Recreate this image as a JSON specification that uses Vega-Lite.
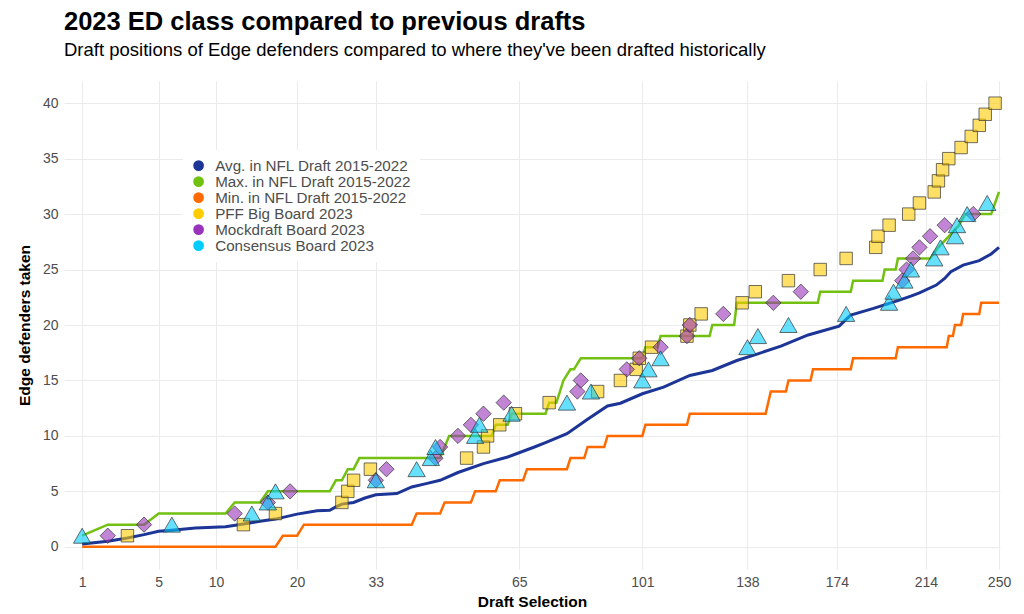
{
  "$schema": "https://vega.github.io/schema/vega-lite/v6.json",
  "width": 936,
  "height": 488,
  "autosize": {"type": "none"},
  "padding": {"left": 64, "top": 81, "right": 24, "bottom": 45},
  "background": "white",
  "title": {
    "text": "2023 ED class compared to previous drafts",
    "subtitle": "Draft positions of Edge defenders compared to where they've been drafted historically",
    "anchor": "start",
    "frame": "group",
    "font": "Liberation Sans",
    "fontSize": 25.5,
    "fontWeight": "bold",
    "color": "#000000",
    "subtitleFont": "Liberation Sans",
    "subtitleFontSize": 18.5,
    "subtitleColor": "#000000",
    "subtitlePadding": 5,
    "offset": 22
  },
  "config": {
    "view": {"stroke": null},
    "axis": {
      "domain": false,
      "ticks": false,
      "grid": true,
      "gridColor": "#ebebeb",
      "gridWidth": 1,
      "labelFlush": false,
      "labelFont": "Liberation Sans",
      "labelFontSize": 14,
      "labelColor": "#4d4d4d",
      "titleFont": "Liberation Sans",
      "titleFontSize": 15.5,
      "titleFontWeight": "bold",
      "titleColor": "#000000"
    }
  },
  "datasets": {
    "lines": [
      {"pick": 1, "value": 0.25, "series": "Avg. in NFL Draft 2015-2022"},
      {"pick": 2, "value": 0.5, "series": "Avg. in NFL Draft 2015-2022"},
      {"pick": 3, "value": 0.8, "series": "Avg. in NFL Draft 2015-2022"},
      {"pick": 4, "value": 1.1, "series": "Avg. in NFL Draft 2015-2022"},
      {"pick": 5, "value": 1.4, "series": "Avg. in NFL Draft 2015-2022"},
      {"pick": 6, "value": 1.5, "series": "Avg. in NFL Draft 2015-2022"},
      {"pick": 8, "value": 1.7, "series": "Avg. in NFL Draft 2015-2022"},
      {"pick": 11, "value": 1.8, "series": "Avg. in NFL Draft 2015-2022"},
      {"pick": 13, "value": 2.05, "series": "Avg. in NFL Draft 2015-2022"},
      {"pick": 15, "value": 2.3, "series": "Avg. in NFL Draft 2015-2022"},
      {"pick": 17, "value": 2.5, "series": "Avg. in NFL Draft 2015-2022"},
      {"pick": 20, "value": 2.95, "series": "Avg. in NFL Draft 2015-2022"},
      {"pick": 23, "value": 3.25, "series": "Avg. in NFL Draft 2015-2022"},
      {"pick": 25, "value": 3.3, "series": "Avg. in NFL Draft 2015-2022"},
      {"pick": 26, "value": 3.6, "series": "Avg. in NFL Draft 2015-2022"},
      {"pick": 27, "value": 3.85, "series": "Avg. in NFL Draft 2015-2022"},
      {"pick": 29, "value": 4.0, "series": "Avg. in NFL Draft 2015-2022"},
      {"pick": 31, "value": 4.4, "series": "Avg. in NFL Draft 2015-2022"},
      {"pick": 33, "value": 4.7, "series": "Avg. in NFL Draft 2015-2022"},
      {"pick": 37, "value": 4.8, "series": "Avg. in NFL Draft 2015-2022"},
      {"pick": 40, "value": 5.4, "series": "Avg. in NFL Draft 2015-2022"},
      {"pick": 43, "value": 5.7, "series": "Avg. in NFL Draft 2015-2022"},
      {"pick": 46, "value": 6.0, "series": "Avg. in NFL Draft 2015-2022"},
      {"pick": 50, "value": 6.7, "series": "Avg. in NFL Draft 2015-2022"},
      {"pick": 56, "value": 7.5, "series": "Avg. in NFL Draft 2015-2022"},
      {"pick": 62, "value": 8.1, "series": "Avg. in NFL Draft 2015-2022"},
      {"pick": 69, "value": 9.0, "series": "Avg. in NFL Draft 2015-2022"},
      {"pick": 72, "value": 9.4, "series": "Avg. in NFL Draft 2015-2022"},
      {"pick": 78, "value": 10.2, "series": "Avg. in NFL Draft 2015-2022"},
      {"pick": 84, "value": 11.5, "series": "Avg. in NFL Draft 2015-2022"},
      {"pick": 90, "value": 12.7, "series": "Avg. in NFL Draft 2015-2022"},
      {"pick": 94, "value": 12.95, "series": "Avg. in NFL Draft 2015-2022"},
      {"pick": 101, "value": 13.8, "series": "Avg. in NFL Draft 2015-2022"},
      {"pick": 108, "value": 14.4, "series": "Avg. in NFL Draft 2015-2022"},
      {"pick": 117, "value": 15.45, "series": "Avg. in NFL Draft 2015-2022"},
      {"pick": 125, "value": 15.9, "series": "Avg. in NFL Draft 2015-2022"},
      {"pick": 134, "value": 16.8, "series": "Avg. in NFL Draft 2015-2022"},
      {"pick": 142, "value": 17.4, "series": "Avg. in NFL Draft 2015-2022"},
      {"pick": 151, "value": 18.1, "series": "Avg. in NFL Draft 2015-2022"},
      {"pick": 162, "value": 19.1, "series": "Avg. in NFL Draft 2015-2022"},
      {"pick": 175, "value": 19.9, "series": "Avg. in NFL Draft 2015-2022"},
      {"pick": 178, "value": 20.5, "series": "Avg. in NFL Draft 2015-2022"},
      {"pick": 180, "value": 20.9, "series": "Avg. in NFL Draft 2015-2022"},
      {"pick": 190, "value": 21.5, "series": "Avg. in NFL Draft 2015-2022"},
      {"pick": 201, "value": 22.2, "series": "Avg. in NFL Draft 2015-2022"},
      {"pick": 207, "value": 22.6, "series": "Avg. in NFL Draft 2015-2022"},
      {"pick": 211, "value": 22.9, "series": "Avg. in NFL Draft 2015-2022"},
      {"pick": 219, "value": 23.6, "series": "Avg. in NFL Draft 2015-2022"},
      {"pick": 223, "value": 24.2, "series": "Avg. in NFL Draft 2015-2022"},
      {"pick": 226, "value": 24.8, "series": "Avg. in NFL Draft 2015-2022"},
      {"pick": 232, "value": 25.4, "series": "Avg. in NFL Draft 2015-2022"},
      {"pick": 240, "value": 25.8, "series": "Avg. in NFL Draft 2015-2022"},
      {"pick": 246, "value": 26.4, "series": "Avg. in NFL Draft 2015-2022"},
      {"pick": 250, "value": 27.0, "series": "Avg. in NFL Draft 2015-2022"},
      {"pick": 1, "value": 1, "series": "Max. in NFL Draft 2015-2022"},
      {"pick": 2, "value": 2, "series": "Max. in NFL Draft 2015-2022"},
      {"pick": 4, "value": 2, "series": "Max. in NFL Draft 2015-2022"},
      {"pick": 5, "value": 3, "series": "Max. in NFL Draft 2015-2022"},
      {"pick": 11, "value": 3, "series": "Max. in NFL Draft 2015-2022"},
      {"pick": 12, "value": 4, "series": "Max. in NFL Draft 2015-2022"},
      {"pick": 15, "value": 4, "series": "Max. in NFL Draft 2015-2022"},
      {"pick": 16, "value": 5, "series": "Max. in NFL Draft 2015-2022"},
      {"pick": 25, "value": 5, "series": "Max. in NFL Draft 2015-2022"},
      {"pick": 26, "value": 6, "series": "Max. in NFL Draft 2015-2022"},
      {"pick": 27, "value": 6, "series": "Max. in NFL Draft 2015-2022"},
      {"pick": 28, "value": 7, "series": "Max. in NFL Draft 2015-2022"},
      {"pick": 29, "value": 7, "series": "Max. in NFL Draft 2015-2022"},
      {"pick": 30, "value": 8, "series": "Max. in NFL Draft 2015-2022"},
      {"pick": 46, "value": 8, "series": "Max. in NFL Draft 2015-2022"},
      {"pick": 47, "value": 9, "series": "Max. in NFL Draft 2015-2022"},
      {"pick": 48, "value": 10, "series": "Max. in NFL Draft 2015-2022"},
      {"pick": 58, "value": 10, "series": "Max. in NFL Draft 2015-2022"},
      {"pick": 59, "value": 11, "series": "Max. in NFL Draft 2015-2022"},
      {"pick": 62, "value": 11, "series": "Max. in NFL Draft 2015-2022"},
      {"pick": 63, "value": 12, "series": "Max. in NFL Draft 2015-2022"},
      {"pick": 72, "value": 12, "series": "Max. in NFL Draft 2015-2022"},
      {"pick": 73, "value": 13, "series": "Max. in NFL Draft 2015-2022"},
      {"pick": 75, "value": 13, "series": "Max. in NFL Draft 2015-2022"},
      {"pick": 76, "value": 14, "series": "Max. in NFL Draft 2015-2022"},
      {"pick": 77, "value": 15, "series": "Max. in NFL Draft 2015-2022"},
      {"pick": 79, "value": 16, "series": "Max. in NFL Draft 2015-2022"},
      {"pick": 80, "value": 16, "series": "Max. in NFL Draft 2015-2022"},
      {"pick": 82, "value": 17, "series": "Max. in NFL Draft 2015-2022"},
      {"pick": 101, "value": 17, "series": "Max. in NFL Draft 2015-2022"},
      {"pick": 102, "value": 18, "series": "Max. in NFL Draft 2015-2022"},
      {"pick": 106, "value": 18, "series": "Max. in NFL Draft 2015-2022"},
      {"pick": 107, "value": 19, "series": "Max. in NFL Draft 2015-2022"},
      {"pick": 124, "value": 19, "series": "Max. in NFL Draft 2015-2022"},
      {"pick": 125, "value": 20, "series": "Max. in NFL Draft 2015-2022"},
      {"pick": 133, "value": 20, "series": "Max. in NFL Draft 2015-2022"},
      {"pick": 134, "value": 22, "series": "Max. in NFL Draft 2015-2022"},
      {"pick": 166, "value": 22, "series": "Max. in NFL Draft 2015-2022"},
      {"pick": 167, "value": 23, "series": "Max. in NFL Draft 2015-2022"},
      {"pick": 180, "value": 23, "series": "Max. in NFL Draft 2015-2022"},
      {"pick": 181, "value": 24, "series": "Max. in NFL Draft 2015-2022"},
      {"pick": 194, "value": 24, "series": "Max. in NFL Draft 2015-2022"},
      {"pick": 195, "value": 25, "series": "Max. in NFL Draft 2015-2022"},
      {"pick": 200, "value": 25, "series": "Max. in NFL Draft 2015-2022"},
      {"pick": 201, "value": 26, "series": "Max. in NFL Draft 2015-2022"},
      {"pick": 216, "value": 26, "series": "Max. in NFL Draft 2015-2022"},
      {"pick": 220, "value": 27, "series": "Max. in NFL Draft 2015-2022"},
      {"pick": 225, "value": 28, "series": "Max. in NFL Draft 2015-2022"},
      {"pick": 230, "value": 29, "series": "Max. in NFL Draft 2015-2022"},
      {"pick": 233, "value": 30, "series": "Max. in NFL Draft 2015-2022"},
      {"pick": 246, "value": 30, "series": "Max. in NFL Draft 2015-2022"},
      {"pick": 248, "value": 31, "series": "Max. in NFL Draft 2015-2022"},
      {"pick": 250, "value": 32, "series": "Max. in NFL Draft 2015-2022"},
      {"pick": 1, "value": 0, "series": "Min. in NFL Draft 2015-2022"},
      {"pick": 17, "value": 0, "series": "Min. in NFL Draft 2015-2022"},
      {"pick": 18, "value": 1, "series": "Min. in NFL Draft 2015-2022"},
      {"pick": 20, "value": 1, "series": "Min. in NFL Draft 2015-2022"},
      {"pick": 21, "value": 2, "series": "Min. in NFL Draft 2015-2022"},
      {"pick": 40, "value": 2, "series": "Min. in NFL Draft 2015-2022"},
      {"pick": 41, "value": 3, "series": "Min. in NFL Draft 2015-2022"},
      {"pick": 46, "value": 3, "series": "Min. in NFL Draft 2015-2022"},
      {"pick": 47, "value": 4, "series": "Min. in NFL Draft 2015-2022"},
      {"pick": 53, "value": 4, "series": "Min. in NFL Draft 2015-2022"},
      {"pick": 54, "value": 5, "series": "Min. in NFL Draft 2015-2022"},
      {"pick": 59, "value": 5, "series": "Min. in NFL Draft 2015-2022"},
      {"pick": 60, "value": 6, "series": "Min. in NFL Draft 2015-2022"},
      {"pick": 66, "value": 6, "series": "Min. in NFL Draft 2015-2022"},
      {"pick": 67, "value": 7, "series": "Min. in NFL Draft 2015-2022"},
      {"pick": 78, "value": 7, "series": "Min. in NFL Draft 2015-2022"},
      {"pick": 79, "value": 8, "series": "Min. in NFL Draft 2015-2022"},
      {"pick": 83, "value": 8, "series": "Min. in NFL Draft 2015-2022"},
      {"pick": 84, "value": 9, "series": "Min. in NFL Draft 2015-2022"},
      {"pick": 89, "value": 9, "series": "Min. in NFL Draft 2015-2022"},
      {"pick": 90, "value": 10, "series": "Min. in NFL Draft 2015-2022"},
      {"pick": 101, "value": 10, "series": "Min. in NFL Draft 2015-2022"},
      {"pick": 102, "value": 11, "series": "Min. in NFL Draft 2015-2022"},
      {"pick": 116, "value": 11, "series": "Min. in NFL Draft 2015-2022"},
      {"pick": 117, "value": 12, "series": "Min. in NFL Draft 2015-2022"},
      {"pick": 145, "value": 12, "series": "Min. in NFL Draft 2015-2022"},
      {"pick": 147, "value": 14, "series": "Min. in NFL Draft 2015-2022"},
      {"pick": 153, "value": 14, "series": "Min. in NFL Draft 2015-2022"},
      {"pick": 154, "value": 15, "series": "Min. in NFL Draft 2015-2022"},
      {"pick": 163, "value": 15, "series": "Min. in NFL Draft 2015-2022"},
      {"pick": 164, "value": 16, "series": "Min. in NFL Draft 2015-2022"},
      {"pick": 180, "value": 16, "series": "Min. in NFL Draft 2015-2022"},
      {"pick": 181, "value": 17, "series": "Min. in NFL Draft 2015-2022"},
      {"pick": 200, "value": 17, "series": "Min. in NFL Draft 2015-2022"},
      {"pick": 201, "value": 18, "series": "Min. in NFL Draft 2015-2022"},
      {"pick": 224, "value": 18, "series": "Min. in NFL Draft 2015-2022"},
      {"pick": 225, "value": 19, "series": "Min. in NFL Draft 2015-2022"},
      {"pick": 227, "value": 19, "series": "Min. in NFL Draft 2015-2022"},
      {"pick": 228, "value": 20, "series": "Min. in NFL Draft 2015-2022"},
      {"pick": 231, "value": 20, "series": "Min. in NFL Draft 2015-2022"},
      {"pick": 232, "value": 21, "series": "Min. in NFL Draft 2015-2022"},
      {"pick": 240, "value": 21, "series": "Min. in NFL Draft 2015-2022"},
      {"pick": 241, "value": 22, "series": "Min. in NFL Draft 2015-2022"},
      {"pick": 250, "value": 22, "series": "Min. in NFL Draft 2015-2022"}
    ],
    "points": [
      {"pick": 3, "value": 1, "series": "PFF Big Board 2023"},
      {"pick": 13, "value": 2, "series": "PFF Big Board 2023"},
      {"pick": 17, "value": 3, "series": "PFF Big Board 2023"},
      {"pick": 27, "value": 4, "series": "PFF Big Board 2023"},
      {"pick": 28, "value": 5, "series": "PFF Big Board 2023"},
      {"pick": 29, "value": 6, "series": "PFF Big Board 2023"},
      {"pick": 32, "value": 7, "series": "PFF Big Board 2023"},
      {"pick": 52, "value": 8, "series": "PFF Big Board 2023"},
      {"pick": 56, "value": 9, "series": "PFF Big Board 2023"},
      {"pick": 57, "value": 10, "series": "PFF Big Board 2023"},
      {"pick": 60, "value": 11, "series": "PFF Big Board 2023"},
      {"pick": 64, "value": 12, "series": "PFF Big Board 2023"},
      {"pick": 73, "value": 13, "series": "PFF Big Board 2023"},
      {"pick": 87, "value": 14, "series": "PFF Big Board 2023"},
      {"pick": 94, "value": 15, "series": "PFF Big Board 2023"},
      {"pick": 99, "value": 16, "series": "PFF Big Board 2023"},
      {"pick": 100, "value": 17, "series": "PFF Big Board 2023"},
      {"pick": 104, "value": 18, "series": "PFF Big Board 2023"},
      {"pick": 116, "value": 19, "series": "PFF Big Board 2023"},
      {"pick": 117, "value": 20, "series": "PFF Big Board 2023"},
      {"pick": 121, "value": 21, "series": "PFF Big Board 2023"},
      {"pick": 136, "value": 22, "series": "PFF Big Board 2023"},
      {"pick": 141, "value": 23, "series": "PFF Big Board 2023"},
      {"pick": 154, "value": 24, "series": "PFF Big Board 2023"},
      {"pick": 167, "value": 25, "series": "PFF Big Board 2023"},
      {"pick": 178, "value": 26, "series": "PFF Big Board 2023"},
      {"pick": 191, "value": 27, "series": "PFF Big Board 2023"},
      {"pick": 192, "value": 28, "series": "PFF Big Board 2023"},
      {"pick": 197, "value": 29, "series": "PFF Big Board 2023"},
      {"pick": 206, "value": 30, "series": "PFF Big Board 2023"},
      {"pick": 211, "value": 31, "series": "PFF Big Board 2023"},
      {"pick": 218, "value": 32, "series": "PFF Big Board 2023"},
      {"pick": 220, "value": 33, "series": "PFF Big Board 2023"},
      {"pick": 222, "value": 34, "series": "PFF Big Board 2023"},
      {"pick": 225, "value": 35, "series": "PFF Big Board 2023"},
      {"pick": 231, "value": 36, "series": "PFF Big Board 2023"},
      {"pick": 236, "value": 37, "series": "PFF Big Board 2023"},
      {"pick": 240, "value": 38, "series": "PFF Big Board 2023"},
      {"pick": 243, "value": 39, "series": "PFF Big Board 2023"},
      {"pick": 248, "value": 40, "series": "PFF Big Board 2023"},
      {"pick": 2, "value": 1, "series": "Mockdraft Board 2023"},
      {"pick": 4, "value": 2, "series": "Mockdraft Board 2023"},
      {"pick": 12, "value": 3, "series": "Mockdraft Board 2023"},
      {"pick": 16, "value": 4, "series": "Mockdraft Board 2023"},
      {"pick": 19, "value": 5, "series": "Mockdraft Board 2023"},
      {"pick": 33, "value": 6, "series": "Mockdraft Board 2023"},
      {"pick": 35, "value": 7, "series": "Mockdraft Board 2023"},
      {"pick": 45, "value": 8, "series": "Mockdraft Board 2023"},
      {"pick": 46, "value": 9, "series": "Mockdraft Board 2023"},
      {"pick": 50, "value": 10, "series": "Mockdraft Board 2023"},
      {"pick": 53, "value": 11, "series": "Mockdraft Board 2023"},
      {"pick": 56, "value": 12, "series": "Mockdraft Board 2023"},
      {"pick": 61, "value": 13, "series": "Mockdraft Board 2023"},
      {"pick": 81, "value": 14, "series": "Mockdraft Board 2023"},
      {"pick": 82, "value": 15, "series": "Mockdraft Board 2023"},
      {"pick": 96, "value": 16, "series": "Mockdraft Board 2023"},
      {"pick": 100, "value": 17, "series": "Mockdraft Board 2023"},
      {"pick": 107, "value": 18, "series": "Mockdraft Board 2023"},
      {"pick": 116, "value": 19, "series": "Mockdraft Board 2023"},
      {"pick": 117, "value": 20, "series": "Mockdraft Board 2023"},
      {"pick": 129, "value": 21, "series": "Mockdraft Board 2023"},
      {"pick": 148, "value": 22, "series": "Mockdraft Board 2023"},
      {"pick": 159, "value": 23, "series": "Mockdraft Board 2023"},
      {"pick": 203, "value": 24, "series": "Mockdraft Board 2023"},
      {"pick": 205, "value": 25, "series": "Mockdraft Board 2023"},
      {"pick": 208, "value": 26, "series": "Mockdraft Board 2023"},
      {"pick": 211, "value": 27, "series": "Mockdraft Board 2023"},
      {"pick": 216, "value": 28, "series": "Mockdraft Board 2023"},
      {"pick": 223, "value": 29, "series": "Mockdraft Board 2023"},
      {"pick": 237, "value": 30, "series": "Mockdraft Board 2023"},
      {"pick": 1, "value": 1, "series": "Consensus Board 2023"},
      {"pick": 6, "value": 2, "series": "Consensus Board 2023"},
      {"pick": 14, "value": 3, "series": "Consensus Board 2023"},
      {"pick": 16, "value": 4, "series": "Consensus Board 2023"},
      {"pick": 17, "value": 5, "series": "Consensus Board 2023"},
      {"pick": 33, "value": 6, "series": "Consensus Board 2023"},
      {"pick": 41, "value": 7, "series": "Consensus Board 2023"},
      {"pick": 44, "value": 8, "series": "Consensus Board 2023"},
      {"pick": 45, "value": 9, "series": "Consensus Board 2023"},
      {"pick": 54, "value": 10, "series": "Consensus Board 2023"},
      {"pick": 55, "value": 11, "series": "Consensus Board 2023"},
      {"pick": 63, "value": 12, "series": "Consensus Board 2023"},
      {"pick": 78, "value": 13, "series": "Consensus Board 2023"},
      {"pick": 85, "value": 14, "series": "Consensus Board 2023"},
      {"pick": 101, "value": 15, "series": "Consensus Board 2023"},
      {"pick": 103, "value": 16, "series": "Consensus Board 2023"},
      {"pick": 107, "value": 17, "series": "Consensus Board 2023"},
      {"pick": 138, "value": 18, "series": "Consensus Board 2023"},
      {"pick": 142, "value": 19, "series": "Consensus Board 2023"},
      {"pick": 154, "value": 20, "series": "Consensus Board 2023"},
      {"pick": 178, "value": 21, "series": "Consensus Board 2023"},
      {"pick": 197, "value": 22, "series": "Consensus Board 2023"},
      {"pick": 199, "value": 23, "series": "Consensus Board 2023"},
      {"pick": 204, "value": 24, "series": "Consensus Board 2023"},
      {"pick": 207, "value": 25, "series": "Consensus Board 2023"},
      {"pick": 218, "value": 26, "series": "Consensus Board 2023"},
      {"pick": 221, "value": 27, "series": "Consensus Board 2023"},
      {"pick": 228, "value": 28, "series": "Consensus Board 2023"},
      {"pick": 229, "value": 29, "series": "Consensus Board 2023"},
      {"pick": 234, "value": 30, "series": "Consensus Board 2023"},
      {"pick": 244, "value": 31, "series": "Consensus Board 2023"}
    ]
  },
  "encoding": {
    "x": {
      "field": "pick",
      "type": "quantitative",
      "title": "Draft Selection",
      "scale": {"type": "sqrt", "domain": [0.5, 250.5], "nice": false, "zero": false},
      "axis": {"values": [1, 5, 10, 20, 33, 65, 101, 138, 174, 214, 250], "labelPadding": 6, "titlePadding": 5}
    },
    "y": {
      "field": "value",
      "type": "quantitative",
      "title": "Edge defenders taken",
      "scale": {"domain": [-2, 42], "nice": false, "zero": false},
      "axis": {"values": [0, 5, 10, 15, 20, 25, 30, 35, 40], "labelPadding": 6, "titlePadding": 10}
    },
    "color": {
      "field": "series",
      "type": "nominal",
      "scale": {
        "domain": ["Avg. in NFL Draft 2015-2022", "Max. in NFL Draft 2015-2022", "Min. in NFL Draft 2015-2022", "PFF Big Board 2023", "Mockdraft Board 2023", "Consensus Board 2023"],
        "range": ["#1c3596", "#72c010", "#ff6a00", "#ffcc00", "#9933bb", "#00ccff"]
      },
      "legend": {
        "title": null,
        "orient": "none",
        "legendX": 119,
        "legendY": 69,
        "fillColor": "white",
        "padding": 8,
        "symbolType": "circle",
        "symbolSize": 115,
        "symbolOpacity": 1,
        "symbolStrokeWidth": 0,
        "labelFont": "Liberation Sans",
        "labelFontSize": 15.2,
        "labelColor": "#4d4d4d",
        "labelOffset": 9,
        "labelLimit": 0,
        "rowPadding": -0.4,
        "encode": {
          "symbols": {
            "update": {
              "fill": {"scale": "color", "field": "value"},
              "fillOpacity": {"value": 1},
              "opacity": {"value": 1},
              "strokeWidth": {"value": 0}
            }
          }
        }
      }
    }
  },
  "layer": [
    {
      "data": {"name": "lines"},
      "transform": [{"filter": "datum.series === 'Min. in NFL Draft 2015-2022'"}],
      "mark": {"type": "line", "strokeWidth": 2.5}
    },
    {
      "data": {"name": "lines"},
      "transform": [{"filter": "datum.series === 'Max. in NFL Draft 2015-2022'"}],
      "mark": {"type": "line", "strokeWidth": 2.5}
    },
    {
      "data": {"name": "lines"},
      "transform": [{"filter": "datum.series === 'Avg. in NFL Draft 2015-2022'"}],
      "mark": {"type": "line", "strokeWidth": 3}
    },
    {
      "data": {"name": "points"},
      "transform": [{"filter": "datum.series === 'PFF Big Board 2023'"}],
      "mark": {"type": "point", "shape": "square", "filled": true, "size": 155, "fillOpacity": 0.6, "stroke": "#333333", "strokeOpacity": 0.7, "strokeWidth": 1}
    },
    {
      "data": {"name": "points"},
      "transform": [{"filter": "datum.series === 'Mockdraft Board 2023'"}],
      "mark": {"type": "point", "shape": "diamond", "filled": true, "size": 235, "fillOpacity": 0.6, "stroke": "#333333", "strokeOpacity": 0.7, "strokeWidth": 1}
    },
    {
      "data": {"name": "points"},
      "transform": [{"filter": "datum.series === 'Consensus Board 2023'"}],
      "mark": {"type": "point", "shape": "triangle-up", "filled": true, "size": 300, "fillOpacity": 0.6, "stroke": "#333333", "strokeOpacity": 0.7, "strokeWidth": 1}
    }
  ]
}
